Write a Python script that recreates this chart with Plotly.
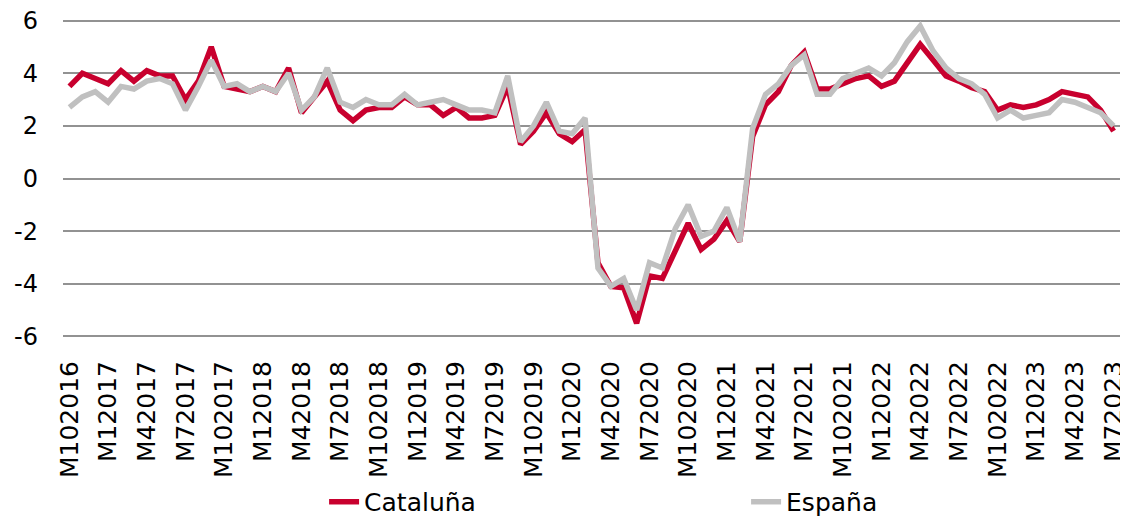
import plotly.graph_objects as go

# Monthly categories Oct 2016 .. Jul 2023
months = []
for y in range(2016, 2024):
    for m in range(1, 13):
        if (y == 2016 and m < 10) or (y == 2023 and m > 7):
            continue
        months.append(f"M{m}{y}")

cataluna = [3.5, 4.0, 3.8, 3.6, 4.1, 3.7, 4.1, 3.9, 3.9, 3.0, 3.7, 5.0,
            3.5, 3.4, 3.3, 3.5, 3.3, 4.2, 2.5, 3.1, 3.7, 2.6, 2.2,
            2.6, 2.7, 2.7, 3.1, 2.8, 2.8, 2.4, 2.7, 2.3, 2.3, 2.4, 3.5,
            1.3, 1.8, 2.5, 1.7, 1.4, 1.85,
            -3.2, -4.1, -4.15, -5.5, -3.7, -3.8, -2.75, -1.7, -2.7, -2.3, -1.6, -2.4,
            1.6, 2.8, 3.3, 4.3, 4.8, 3.4, 3.4, 3.6, 3.8, 3.9, 3.5, 3.7,
            4.4, 5.1, 4.5, 3.9, 3.7, 3.45, 3.3, 2.6, 2.8, 2.7, 2.8, 3.0,
            3.3, 3.2, 3.1, 2.6, 1.8]

espana = [2.7, 3.1, 3.3, 2.9, 3.5, 3.4, 3.7, 3.8, 3.6, 2.6, 3.5, 4.5,
          3.5, 3.6, 3.3, 3.5, 3.3, 4.0, 2.6, 3.1, 4.2, 2.9, 2.7,
          3.0, 2.8, 2.8, 3.2, 2.8, 2.9, 3.0, 2.8, 2.6, 2.6, 2.5, 3.9,
          1.4, 2.0, 2.9, 1.8, 1.7, 2.3,
          -3.4, -4.1, -3.8, -5.0, -3.2, -3.4, -1.9, -1.0, -2.2, -2.0, -1.1, -2.4,
          1.9, 3.2, 3.6, 4.3, 4.7, 3.2, 3.2, 3.8, 4.0, 4.2, 3.9, 4.4,
          5.2, 5.8, 4.85, 4.2, 3.8, 3.6, 3.2, 2.3, 2.6, 2.3, 2.4, 2.5,
          3.0, 2.9, 2.7, 2.5, 2.0]

y_ticks = [-6, -4, -2, 0, 2, 4, 6]
y_tick_labels = ["-6", "-4", "-2", "0", "2", "4", "6"]

FONT = "DejaVu Sans"
FS = 25

fig = go.Figure()
fig.add_trace(go.Scatter(x=months, y=cataluna, name="Cataluña", mode="lines",
                         line=dict(color="#C8002E", width=5.5)))
fig.add_trace(go.Scatter(x=months, y=espana, name="España", mode="lines",
                         line=dict(color="#C0C0C0", width=5.5)))

# page body has an 8px default margin, so the figure is sized to fit the window
fig.update_layout(
    width=1120, height=509,
    margin=dict(l=55, r=8, t=10, b=178, autoexpand=False),
    paper_bgcolor="white", plot_bgcolor="white",
    font=dict(family=FONT, size=FS, color="black"),
    showlegend=True,
    legend=dict(orientation="h", x=0.247, xanchor="left",
                yref="container", y=0.0295, yanchor="middle",
                entrywidth=377, entrywidthmode="pixels",
                font=dict(family=FONT, size=FS, color="black"),
                bgcolor="rgba(0,0,0,0)"),
    xaxis=dict(type="category", range=[-0.5, len(months) - 0.5],
               tickmode="array", tickvals=months[::3], ticktext=months[::3],
               tickangle=-90, showgrid=False, zeroline=False, showline=False,
               ticks="", ticklabelstandoff=16, automargin=False,
               ticklabeloverflow="allow",
               tickfont=dict(family=FONT, size=FS, color="black")),
    yaxis=dict(range=[-6.1, 6.1], tickmode="array", tickvals=y_ticks,
               ticktext=y_tick_labels, showgrid=True, gridcolor="#929292",
               gridwidth=1.5, zeroline=False, showline=False, ticks="",
               ticklabelstandoff=24, automargin=False,
               ticklabeloverflow="allow",
               tickfont=dict(family=FONT, size=24, color="black")),
)

fig.write_html("out.html")
